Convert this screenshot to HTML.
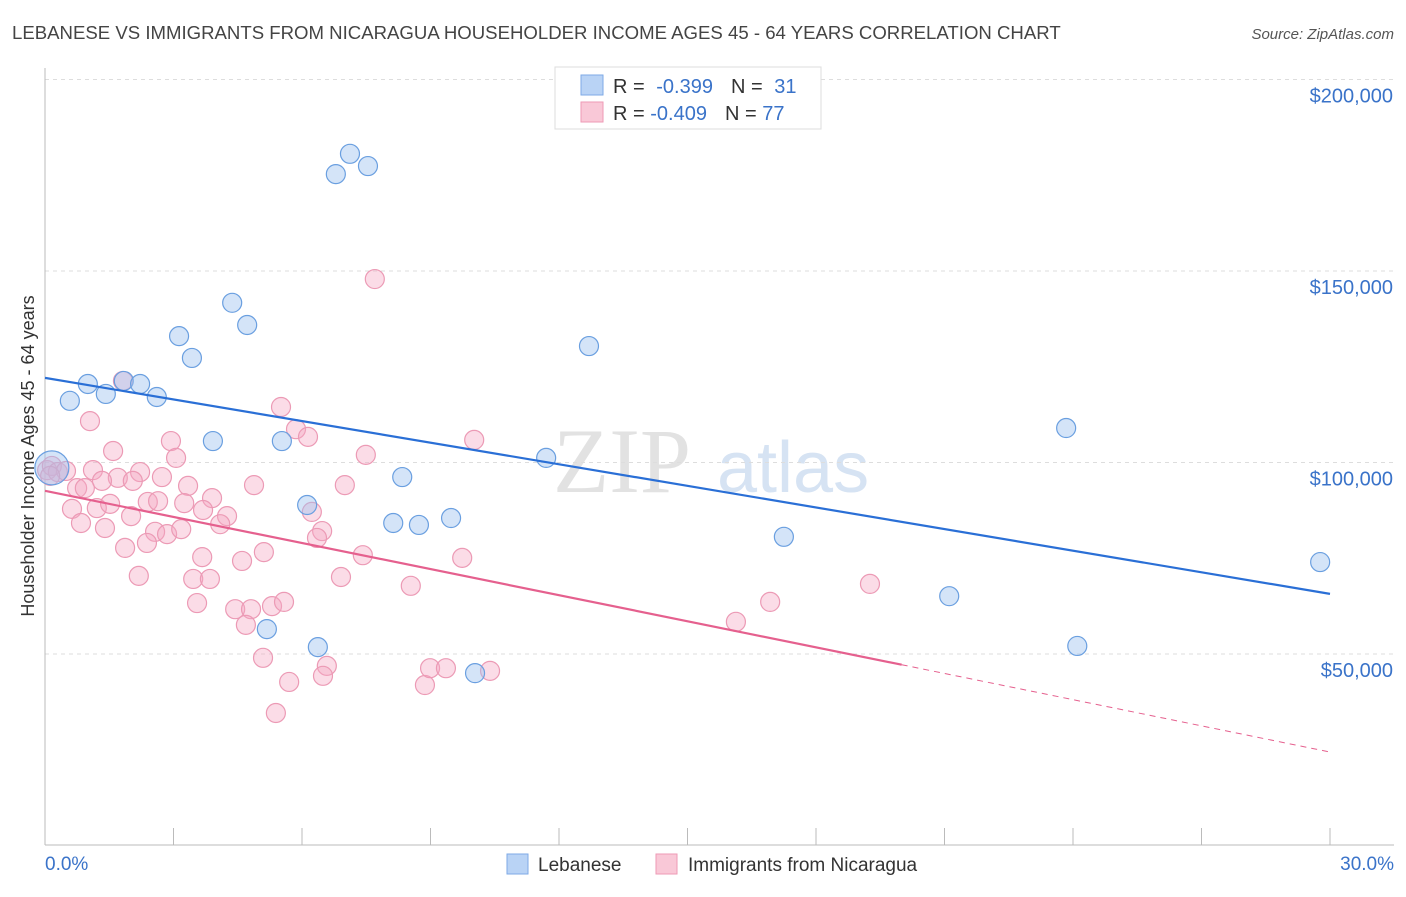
<!DOCTYPE html>
<html><head><meta charset="utf-8">
<style>
body{margin:0;background:#fff;font-family:"Liberation Sans",sans-serif;}
svg text{font-family:"Liberation Sans",sans-serif;}
</style></head>
<body>
<svg id="chart" width="1406" height="892" viewBox="0 0 1406 892">
<text x="12" y="39" font-size="18.6" fill="#444">LEBANESE VS IMMIGRANTS FROM NICARAGUA HOUSEHOLDER INCOME AGES 45 - 64 YEARS CORRELATION CHART</text>
<text x="1394" y="39" font-size="15" fill="#555" font-style="italic" text-anchor="end">Source: ZipAtlas.com</text>
<g>
<text x="553" y="492" font-size="92" fill="#e2e2e2" style="font-family:'Liberation Serif',serif">ZIP</text>
<text x="717" y="492" font-size="72" fill="#d6e3f3">atlas</text>
</g>
<g id="grid"></g>
<g id="axes"></g>
<g id="marks"></g>
<text transform="translate(34,456) rotate(-90)" font-size="18" fill="#333" text-anchor="middle">Householder Income Ages 45 - 64 years</text>
<g>
<rect x="555" y="67" width="266" height="62" fill="#fff" stroke="#ddd"/>
<rect x="581" y="75" width="22" height="20" fill="#b9d3f5" stroke="#7eaae6"/>
<rect x="581" y="102" width="22" height="20" fill="#f9c8d7" stroke="#ee9ab5"/>
<text x="613" y="93" font-size="20" fill="#333">R = <tspan fill="#3a73c9" dx="6">-0.399</tspan><tspan dx="18" fill="#333">N = </tspan><tspan dx="6" fill="#3a73c9">31</tspan></text>
<text x="613" y="120" font-size="20" fill="#333">R = <tspan fill="#3a73c9">-0.409</tspan><tspan dx="18" fill="#333">N = </tspan><tspan fill="#3a73c9">77</tspan></text>
</g>
<g>
<rect x="507" y="854" width="21" height="20" fill="#b9d3f5" stroke="#7eaae6"/>
<text x="538" y="871" font-size="19" fill="#333">Lebanese</text>
<rect x="656" y="854" width="21" height="20" fill="#f9c8d7" stroke="#ee9ab5"/>
<text x="688" y="871" font-size="19" fill="#333">Immigrants from Nicaragua</text>
</g>
</svg>
<script>
const xTicks=[0,3,6,9,12,15,18,21,24,27,30];
const yTicks=[50,100,150,200];
const yTickLabels=["$50,000","$100,000","$150,000","$200,000"];
const xEndLabels=["0.0%","30.0%"];
const lebX=[0.16,0.58,1.00,1.42,1.84,2.22,2.61,3.13,3.43,3.92,4.37,4.72,5.18,5.53,6.12,6.37,6.79,7.12,7.54,8.13,8.34,8.73,9.48,10.04,11.70,12.70,17.25,21.11,23.84,24.10,29.77];
const lebY=[98.6,116.1,120.5,117.9,121.3,120.5,117.1,133.0,127.3,105.6,141.7,135.9,56.5,105.6,88.9,51.8,175.3,180.6,177.4,84.2,96.2,83.7,85.5,45.0,101.2,130.4,80.6,65.1,109.0,52.1,74.0];
const nicX=[1.82,1.05,5.51,5.86,6.14,7.49,2.94,3.06,1.59,0.05,0.16,0.30,0.49,0.12,1.12,2.22,2.73,1.70,1.33,2.05,0.75,0.93,3.34,4.88,7.00,0.63,1.21,1.52,2.40,2.64,3.25,3.90,3.69,4.25,4.09,0.84,1.40,2.01,2.57,2.85,3.18,2.38,1.87,6.23,6.47,6.35,7.42,5.11,3.67,4.60,6.91,2.19,3.46,3.85,3.55,4.44,4.81,5.30,5.58,4.69,5.09,6.58,6.49,5.70,5.39,7.70,10.02,9.74,8.54,8.87,8.99,9.36,10.39,16.13,16.93,19.26];
const nicY=[121.3,110.8,114.5,108.7,106.7,102.0,105.6,101.2,103.0,98.0,99.1,97.5,97.8,96.5,98.0,97.5,96.2,96.0,95.2,95.2,93.3,93.3,93.9,94.1,94.1,87.9,88.1,89.2,89.7,89.9,89.4,90.7,87.6,86.0,83.9,84.2,82.9,86.0,81.9,81.3,82.6,79.0,77.7,87.1,82.1,80.3,75.8,76.6,75.3,74.3,70.1,70.4,69.6,69.6,63.3,61.7,61.7,62.5,63.6,57.6,49.0,46.9,44.3,42.7,34.6,147.9,105.9,75.1,67.8,41.9,46.3,46.3,45.6,58.4,63.6,68.3];
const lebTrend=[[0,122.1],[30,65.7]];
const nicTrend=[[0,92.6],[20,47.2],[30,24.4]];

const NS="http://www.w3.org/2000/svg";
const X=v=>45+v/30*1285;
const Y=v=>654-(v-50)*191.5/50;
function mk(t,a,p){const e=document.createElementNS(NS,t);for(const k in a)e.setAttribute(k,a[k]);p.appendChild(e);return e;}
const grid=document.getElementById('grid'),axes=document.getElementById('axes'),marks=document.getElementById('marks');
yTicks.forEach((v,i)=>{
 const l=mk('line',{x1:45,x2:1394,y1:Y(v),y2:Y(v),stroke:'#ddd','stroke-dasharray':'4,4'},grid);
 
 
 const t=mk('text',{x:1393,y:Y(v)+23,'font-size':20,fill:'#3a73c9','text-anchor':'end'},axes);
 t.textContent=yTickLabels[i];
 
 
});
const ax=mk('line',{x1:45,x2:45,y1:68,y2:845,stroke:'#bbb'},axes);


const bx=mk('line',{x1:45,x2:1394,y1:845,y2:845,stroke:'#bbb'},axes);


xTicks.forEach(v=>{
 const l=mk('line',{x1:X(v),x2:X(v),y1:828,y2:845,stroke:'#bbb'},axes);
 
 
});
[[0,'start',45],[30,'end',1394]].forEach((d,i)=>{
 const t=mk('text',{x:d[2],y:870,'font-size':19,fill:'#3a73c9','text-anchor':d[1]},axes);
 t.textContent=xEndLabels[i];
 
 
});
nicX.forEach((x,i)=>{
 const c=mk('circle',{cx:X(x),cy:Y(nicY[i]),r:9.5,fill:'rgba(244,168,194,0.4)',stroke:'#ec9ab5','stroke-width':1.2},marks);
 
 
});
lebX.forEach((x,i)=>{
 const c=mk('circle',{cx:X(x),cy:Y(lebY[i]),r:i==0?17:9.5,fill:'rgba(160,196,240,0.45)',stroke:'#6a9fe0','stroke-width':1.2},marks);
 
 
});
const lt=mk('line',{x1:X(lebTrend[0][0]),y1:Y(lebTrend[0][1]),x2:X(lebTrend[1][0]),y2:Y(lebTrend[1][1]),stroke:'#2a6fd6','stroke-width':2.2},marks);


const nt=mk('line',{x1:X(nicTrend[0][0]),y1:Y(nicTrend[0][1]),x2:X(nicTrend[1][0]),y2:Y(nicTrend[1][1]),stroke:'#e5608e','stroke-width':2.2},marks);


const nd=mk('line',{x1:X(nicTrend[1][0]),y1:Y(nicTrend[1][1]),x2:X(nicTrend[2][0]),y2:Y(nicTrend[2][1]),stroke:'#e5608e','stroke-width':1,'stroke-dasharray':'6,5'},marks);


</script>
</body></html>
